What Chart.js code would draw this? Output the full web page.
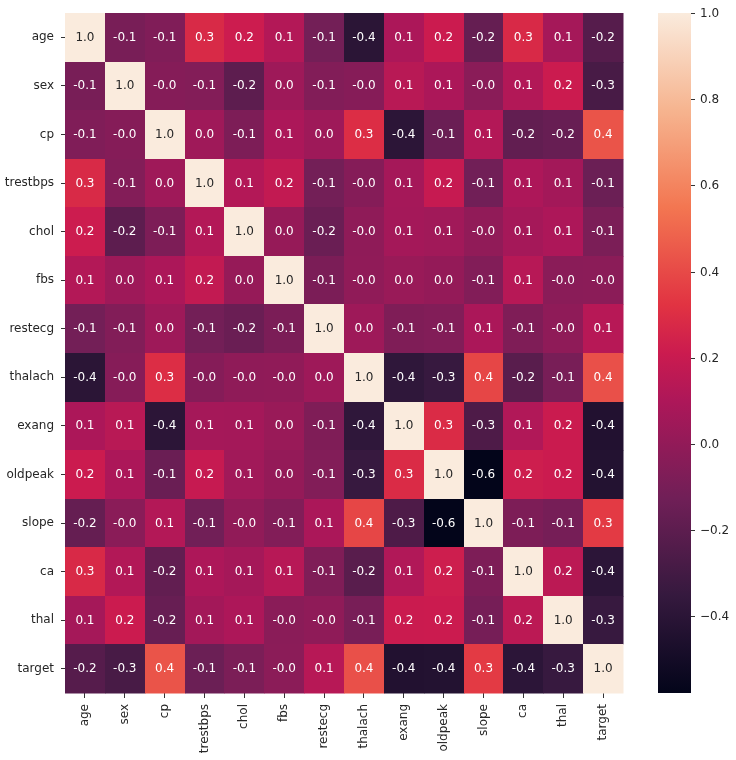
<!DOCTYPE html>
<html>
<head>
<meta charset="utf-8">
<script src="https://cdn.jsdelivr.net/npm/chart.js@4.4.0/dist/chart.umd.min.js"></script>
<style>
  html, body { margin: 0; padding: 0; background: #ffffff; }
  #wrap { width: 736px; height: 760px; position: relative; }
</style>
</head>
<body>
<div id="wrap"><canvas id="c"></canvas></div>
<script>
// ---- data ----
const labels = ["age","sex","cp","trestbps","chol","fbs","restecg","thalach","exang","oldpeak","slope","ca","thal","target"];
const rowAge      = [ 1.000,-0.098,-0.069, 0.279, 0.214, 0.121,-0.116,-0.399, 0.097, 0.210,-0.169, 0.276, 0.068,-0.225];
const rowSex      = [-0.098, 1.000,-0.049,-0.057,-0.198, 0.045,-0.058,-0.044, 0.142, 0.096,-0.031, 0.118, 0.210,-0.281];
const rowCp       = [-0.069,-0.049, 1.000, 0.048,-0.077, 0.094, 0.044, 0.296,-0.394,-0.149, 0.120,-0.181,-0.162, 0.434];
const rowTrestbps = [ 0.279,-0.057, 0.048, 1.000, 0.123, 0.178,-0.114,-0.047, 0.068, 0.193,-0.121, 0.101, 0.062,-0.145];
const rowChol     = [ 0.214,-0.198,-0.077, 0.123, 1.000, 0.013,-0.151,-0.010, 0.067, 0.054,-0.004, 0.071, 0.099,-0.085];
const rowFbs      = [ 0.121, 0.045, 0.094, 0.178, 0.013, 1.000,-0.084,-0.009, 0.026, 0.006,-0.060, 0.138,-0.032,-0.028];
const rowRestecg  = [-0.116,-0.058, 0.044,-0.114,-0.151,-0.084, 1.000, 0.044,-0.071,-0.059, 0.093,-0.072,-0.012, 0.137];
const rowThalach  = [-0.399,-0.044, 0.296,-0.047,-0.010,-0.009, 0.044, 1.000,-0.379,-0.344, 0.387,-0.213,-0.096, 0.422];
const rowExang    = [ 0.097, 0.142,-0.394, 0.068, 0.067, 0.026,-0.071,-0.379, 1.000, 0.288,-0.258, 0.116, 0.207,-0.437];
const rowOldpeak  = [ 0.210, 0.096,-0.149, 0.193, 0.054, 0.006,-0.059,-0.344, 0.288, 1.000,-0.578, 0.223, 0.210,-0.431];
const rowSlope    = [-0.169,-0.031, 0.120,-0.121,-0.004,-0.060, 0.093, 0.387,-0.258,-0.578, 1.000,-0.080,-0.105, 0.346];
const rowCa       = [ 0.276, 0.118,-0.181, 0.101, 0.071, 0.138,-0.072,-0.213, 0.116, 0.223,-0.080, 1.000, 0.152,-0.392];
const rowThal     = [ 0.068, 0.210,-0.162, 0.062, 0.099,-0.032,-0.012,-0.096, 0.207, 0.210,-0.105, 0.152, 1.000,-0.344];
const rowTarget   = [-0.225,-0.281, 0.434,-0.145,-0.085,-0.028, 0.137, 0.422,-0.437,-0.431, 0.346,-0.392,-0.344, 1.000];
const colorbarTicks = [-0.4,-0.2,0.0,0.2,0.4,0.6,0.8,1.0];
const vmin = -0.5775, vmax = 1.0;

const rows = [rowAge,rowSex,rowCp,rowTrestbps,rowChol,rowFbs,rowRestecg,rowThalach,rowExang,rowOldpeak,rowSlope,rowCa,rowThal,rowTarget];

// ---- colormap (seaborn "rocket") ----
const rocket = [
  [0.000,[3,5,26]],[0.143,[53,25,62]],[0.286,[112,31,87]],[0.429,[173,23,89]],
  [0.500,[203,27,79]],[0.571,[225,51,66]],[0.714,[243,118,81]],[0.857,[246,180,143]],[1.000,[250,235,221]]
];
function cmapRGB(t){
  t = Math.max(0, Math.min(1, t));
  for (let i = 1; i < rocket.length; i++){
    if (t <= rocket[i][0]){
      const [t0,c0] = rocket[i-1], [t1,c1] = rocket[i];
      const f = (t - t0) / (t1 - t0);
      return c0.map((v,k)=>Math.round(v + (c1[k]-v)*f));
    }
  }
  return rocket[rocket.length-1][1];
}
function rgbStr(c){ return `rgb(${c[0]},${c[1]},${c[2]})`; }
function lum(c){
  const l = c.map(v => { v/=255; return v <= 0.03928 ? v/12.92 : Math.pow((v+0.055)/1.055, 2.4); });
  return 0.2126*l[0] + 0.7152*l[1] + 0.0722*l[2];
}

const points = [];
rows.forEach((r, i) => r.forEach((v, j) => points.push({x: j, y: i, v: v})));

const FONT = "'DejaVu Sans', sans-serif";
const TXT = '#262626';

function noPad(a){ a.paddingTop = 0; a.paddingBottom = 0; a.paddingLeft = 0; a.paddingRight = 0; }

const heatPlugin = {
  id: 'heat',
  beforeDatasetsDraw(chart){
    const ctx = chart.ctx, xs = chart.scales.x, ys = chart.scales.y, cb = chart.scales.cb;
    ctx.save();
    ctx.font = `12px ${FONT}`;
    ctx.textAlign = 'center';
    ctx.textBaseline = 'middle';
    chart.data.datasets[0].data.forEach(p => {
      const x0 = Math.round(xs.getPixelForValue(p.x - 0.5)), x1 = Math.round(xs.getPixelForValue(p.x + 0.5));
      const y0 = Math.round(ys.getPixelForValue(p.y - 0.5)), y1 = Math.round(ys.getPixelForValue(p.y + 0.5));
      const c = cmapRGB((p.v - vmin) / (vmax - vmin));
      ctx.fillStyle = rgbStr(c);
      ctx.fillRect(Math.min(x0,x1), Math.min(y0,y1), Math.abs(x1-x0)+0.5, Math.abs(y1-y0)+0.5);
    });
    chart.data.datasets[0].data.forEach(p => {
      const cx = xs.getPixelForValue(p.x), cy = ys.getPixelForValue(p.y);
      const c = cmapRGB((p.v - vmin) / (vmax - vmin));
      ctx.fillStyle = lum(c) > 0.408 ? TXT : '#ffffff';
      ctx.fillText(p.v.toFixed(1), cx, cy + 0.5);
    });
    // colorbar
    const barL = chart.chartArea.right + 35, barW = 33;
    const yTop = cb.getPixelForValue(vmax), yBot = cb.getPixelForValue(vmin);
    const g = ctx.createLinearGradient(0, yBot, 0, yTop);
    rocket.forEach(s => g.addColorStop(s[0], rgbStr(s[1])));
    ctx.fillStyle = g;
    ctx.fillRect(barL, yTop, barW, yBot - yTop);
    ctx.strokeStyle = '#333333';
    ctx.lineWidth = 1;
    ctx.fillStyle = TXT;
    ctx.textAlign = 'left';
    colorbarTicks.forEach(t => {
      const py = Math.round(cb.getPixelForValue(t)) + 0.5;
      ctx.beginPath();
      ctx.moveTo(barL + barW, py);
      ctx.lineTo(barL + barW + 4, py);
      ctx.stroke();
      const s = t < 0 ? '\u2212' + Math.abs(t).toFixed(1) : t.toFixed(1);
      ctx.fillText(s, barL + barW + 9, py);
    });
    ctx.restore();
  }
};

new Chart(document.getElementById('c'), {
  type: 'scatter',
  data: { datasets: [{ data: points, pointRadius: 0, pointHoverRadius: 0 }] },
  options: {
    responsive: true,
    maintainAspectRatio: false,
    animation: false,
    events: [],
    layout: { padding: { top: 13, left: 0, right: 0, bottom: 0 } },
    plugins: { legend: { display: false }, tooltip: { enabled: false } },
    scales: {
      x: {
        type: 'linear', position: 'bottom', min: -0.5, max: 13.5,
        afterBuildTicks: a => { a.ticks = labels.map((l, i) => ({ value: i })); },
        afterFit: a => { a.height = 67; noPad(a); },
        ticks: { callback: v => labels[v], autoSkip: false, minRotation: 90, maxRotation: 90,
                 font: { family: FONT, size: 12 }, color: TXT, padding: 6 },
        grid: { display: true, drawOnChartArea: false, drawTicks: true, tickLength: 5, tickColor: '#333333' },
        border: { display: false }
      },
      y: {
        type: 'linear', position: 'left', min: -0.5, max: 13.5, reverse: true,
        afterBuildTicks: a => { a.ticks = labels.map((l, i) => ({ value: i })); },
        afterFit: a => { a.width = 65; noPad(a); },
        ticks: { callback: v => labels[v], autoSkip: false,
                 font: { family: FONT, size: 12 }, color: TXT, padding: 7 },
        grid: { display: true, drawOnChartArea: false, drawTicks: true, tickLength: 4, tickColor: '#333333' },
        border: { display: false }
      },
      cb: {
        type: 'linear', position: 'right', min: vmin, max: vmax,
        afterBuildTicks: a => { a.ticks = colorbarTicks.map(v => ({ value: v })); },
        afterFit: a => { a.width = 113; noPad(a); },
        ticks: { display: false },
        grid: { display: false, drawTicks: false },
        border: { display: false }
      }
    }
  },
  plugins: [heatPlugin]
});
</script>
</body>
</html>
